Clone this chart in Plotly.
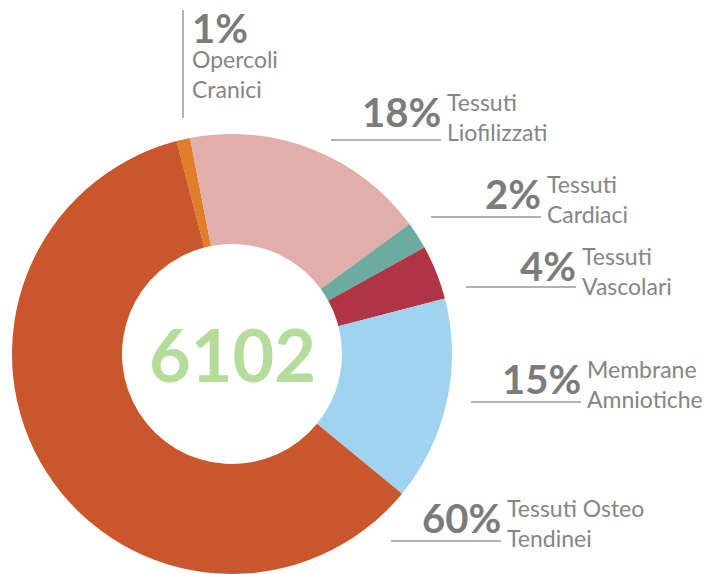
import plotly.graph_objects as go

W, H = 712, 574
OFF = 8  # page body margin
FW, FH = W - OFF, H - OFF

categories = ["Opercoli Cranici", "Tessuti Liofilizzati", "Tessuti Cardiaci",
              "Tessuti Vascolari", "Membrane Amniotiche", "Tessuti Osteo Tendinei"]
label_lines = [["Opercoli", "Cranici"], ["Tessuti", "Liofilizzati"], ["Tessuti", "Cardiaci"],
               ["Tessuti", "Vascolari"], ["Membrane", "Amniotiche"], ["Tessuti Osteo", "Tendinei"]]
percent_values = [1, 18, 2, 4, 15, 60]
total = "6102"
colors = ["#E07E2A", "#E2AEAB", "#6AADA0", "#B03446", "#A0D3F0", "#C9572B"]

GRAY_P = "#7b7b7b"
GRAY_L = "#858585"
FONT = "Lato, 'Open Sans', sans-serif"


def px(x):
    return (x - OFF) / FW


def py(y):
    return 1 - (y - OFF) / FH


fig = go.Figure()
fig.add_trace(go.Pie(
    labels=categories,
    values=percent_values,
    hole=0.5,
    sort=False,
    direction="clockwise",
    rotation=-14.6,
    marker=dict(colors=colors, line=dict(width=0)),
    textinfo="none",
    hoverinfo="label+percent",
    showlegend=False,
    domain=dict(x=[px(12), px(452)], y=[max(0, py(574)), py(134)]),
))

annotations = []
shapes = []

annotations.append(dict(x=px(232), y=py(354), xref="paper", yref="paper",
                        text=f"<b>{total}</b>", showarrow=False,
                        font=dict(family=FONT, size=72, color="#B5DC9B"),
                        xanchor="center", yanchor="middle"))

layout_px = [
    None,
    (441, 112, 140),
    (541, 194, 217),
    (576, 266, 287),
    (581, 379, 402),
    (501, 518, 541),
]

PSIZE = 40
LSIZE = 23

for i, (cat, lines, pv) in enumerate(zip(categories, label_lines, percent_values)):
    if i == 0:
        shapes.append(dict(type="line", xref="paper", yref="paper",
                           x0=px(183), x1=px(183), y0=py(10), y1=py(118),
                           line=dict(color="#999999", width=1.5)))
        annotations.append(dict(x=px(190), y=py(28), xref="paper", yref="paper",
                                text=f"<b>{pv}%</b>", showarrow=False,
                                font=dict(family=FONT, size=PSIZE, color=GRAY_P),
                                xanchor="left", yanchor="middle"))
        annotations.append(dict(x=px(190), y=py(74), xref="paper", yref="paper",
                                text="<br>".join(lines), showarrow=False, align="left",
                                font=dict(family=FONT, size=LSIZE, color=GRAY_L),
                                xanchor="left", yanchor="middle"))
        continue
    xr, yc, yl = layout_px[i]
    shapes.append(dict(type="line", xref="paper", yref="paper",
                       x0=px(xr - 110), x1=px(xr), y0=py(yl), y1=py(yl),
                       line=dict(color="#999999", width=1.5)))
    annotations.append(dict(x=px(xr + 2), y=py(yc), xref="paper", yref="paper",
                            text=f"<b>{pv}%</b>", showarrow=False,
                            font=dict(family=FONT, size=PSIZE, color=GRAY_P),
                            xanchor="right", yanchor="middle"))
    annotations.append(dict(x=px(xr + 4), y=py(yc + 5), xref="paper", yref="paper",
                            text="<br>".join(lines), showarrow=False, align="left",
                            font=dict(family=FONT, size=LSIZE, color=GRAY_L),
                            xanchor="left", yanchor="middle"))

fig.update_layout(
    width=FW, height=FH,
    margin=dict(l=0, r=0, t=0, b=0),
    paper_bgcolor="white", plot_bgcolor="white",
    annotations=annotations, shapes=shapes,
)

fig.write_html("out.html")
